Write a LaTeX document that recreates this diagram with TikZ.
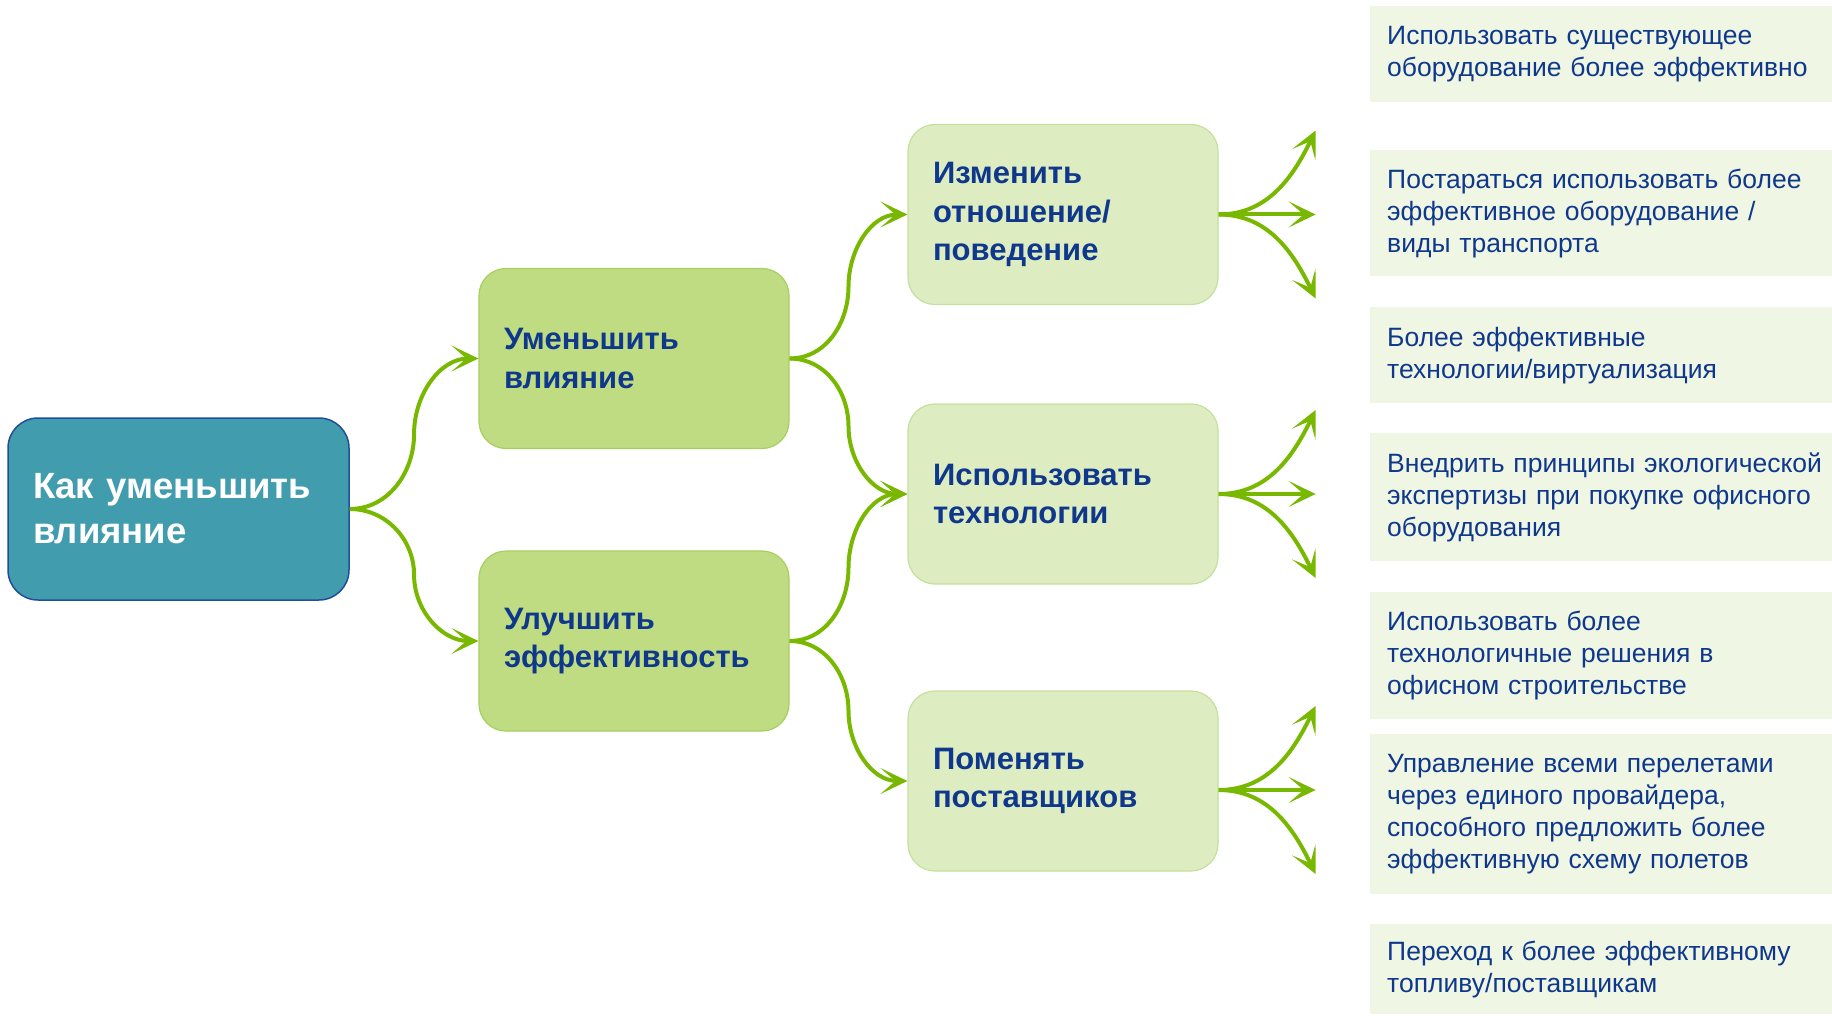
\documentclass[tikz,border=0pt]{standalone}
\usepackage{fontspec}
\setmainfont{Liberation Sans}
\usepackage{xcolor}
\usepackage{tikz}
\usetikzlibrary{arrows.meta, calc, positioning}
\definecolor{rootFill}{HTML}{419DAE}
\definecolor{rootLine}{HTML}{1F4E9B}
\definecolor{midFill}{HTML}{BFDC82}
\definecolor{midLine}{HTML}{A5D05E}
\definecolor{leafFill}{HTML}{DEEDC1}
\definecolor{leafLine}{HTML}{C4E09C}
\definecolor{noteFill}{HTML}{EFF6E3}
\definecolor{textBlue}{HTML}{0F388C}
\definecolor{arrowGreen}{HTML}{78B800}
\def\noteX{1370}
\def\fanDx{97}
\def\fanDy{84}

\tikzset{
    rootbox/.style={draw=rootLine, line width=1.5pt, fill=rootFill, rounded corners=30pt,
        text=white, font=\fontsize{36.5}{45}\selectfont\bfseries,
        text width=291pt, inner xsep=25pt, minimum height=182pt, align=left},
    midbox/.style={draw=midLine, line width=1.2pt, fill=midFill, rounded corners=27pt,
        text=textBlue, font=\fontsize{31}{38.5}\selectfont\bfseries,
        text width=260pt, inner xsep=25pt, minimum height=180pt, align=left},
    leafbox/.style={midbox, draw=leafLine, fill=leafFill},
    notebox/.style={fill=noteFill, text=textBlue, font=\fontsize{26.5}{32}\selectfont,
        text width=428pt, inner xsep=17pt, inner ysep=0pt, align=left, anchor=north west},
    conn/.style={draw=arrowGreen, line width=4pt,
        -{Stealth[length=27pt, width=26pt, inset=15pt]}}
}

\begin{document}
\begin{tikzpicture}[x=1pt, y=-1pt]
    \useasboundingbox (0,0) rectangle (1832,1016);

    % Draw boxes
    \node[rootbox] (root) at (178.5,509) {Как уменьшить\\влияние};
    \node[midbox] (reduce) at (634,358.5) {Уменьшить\\влияние};
    \node[midbox] (improve) at (634,641) {Улучшить\\эффективность};
    \node[leafbox] (change) at (1063,214.5) {Изменить\\отношение/\\поведение};
    \node[leafbox] (tech) at (1063,494) {Использовать\\технологии};
    \node[leafbox] (supply) at (1063,781) {Поменять\\поставщиков};

    % Draw notes on the right
    \node[notebox, minimum height=96pt] (note1) at (\noteX,6) {Использовать существующее\\оборудование более эффективно};
    \node[notebox, minimum height=126pt] (note2) at (\noteX,150) {Постараться использовать более\\эффективное оборудование /\\виды транспорта};
    \node[notebox, minimum height=96pt] (note3) at (\noteX,307) {Более эффективные\\технологии/виртуализация};
    \node[notebox, minimum height=128pt] (note4) at (\noteX,433) {Внедрить~принципы~экологической\\экспертизы при покупке офисного\\оборудования};
    \node[notebox, minimum height=127pt] (note5) at (\noteX,592) {Использовать более\\технологичные решения в\\офисном строительстве};
    \node[notebox, minimum height=160pt] (note6) at (\noteX,734) {Управление всеми перелетами\\через единого провайдера,\\способного предложить более\\эффективную схему полетов};
    \node[notebox, minimum height=90pt] (note7) at (\noteX,924) {Переход к более эффективному\\топливу/поставщикам};

    % Draw tree connectors
    \foreach \from/\to/\a/\b in {root/reduce/-90/90, root/improve/90/-90, reduce/change/-90/90,
                                  reduce/tech/90/-90, improve/tech/-90/90, improve/supply/90/-90} {
        \draw[conn] (\from.east) to[out=0, in=\a] ($(\from.east)!.5!(\to.west)$)
            to[out=\b, in=180] (\to.west);
    }

    % Draw fans
    \foreach \src/\off in {change/0, tech/0, supply/9} {
        \coordinate (\src-fan) at ($(\src.east)+(0,\off)$);
        \coordinate (\src-up) at ($(\src-fan)+(\fanDx,-\fanDy)$);
        \coordinate (\src-mid) at ($(\src-fan)+(\fanDx,0)$);
        \coordinate (\src-down) at ($(\src-fan)+(\fanDx,\fanDy)$);
        \draw[conn] (\src-fan) to[out=0, in=-116] (\src-up);
        \draw[conn] (\src-fan) -- (\src-mid);
        \draw[conn] (\src-fan) to[out=0, in=116] (\src-down);
    }
\end{tikzpicture}
\end{document}
